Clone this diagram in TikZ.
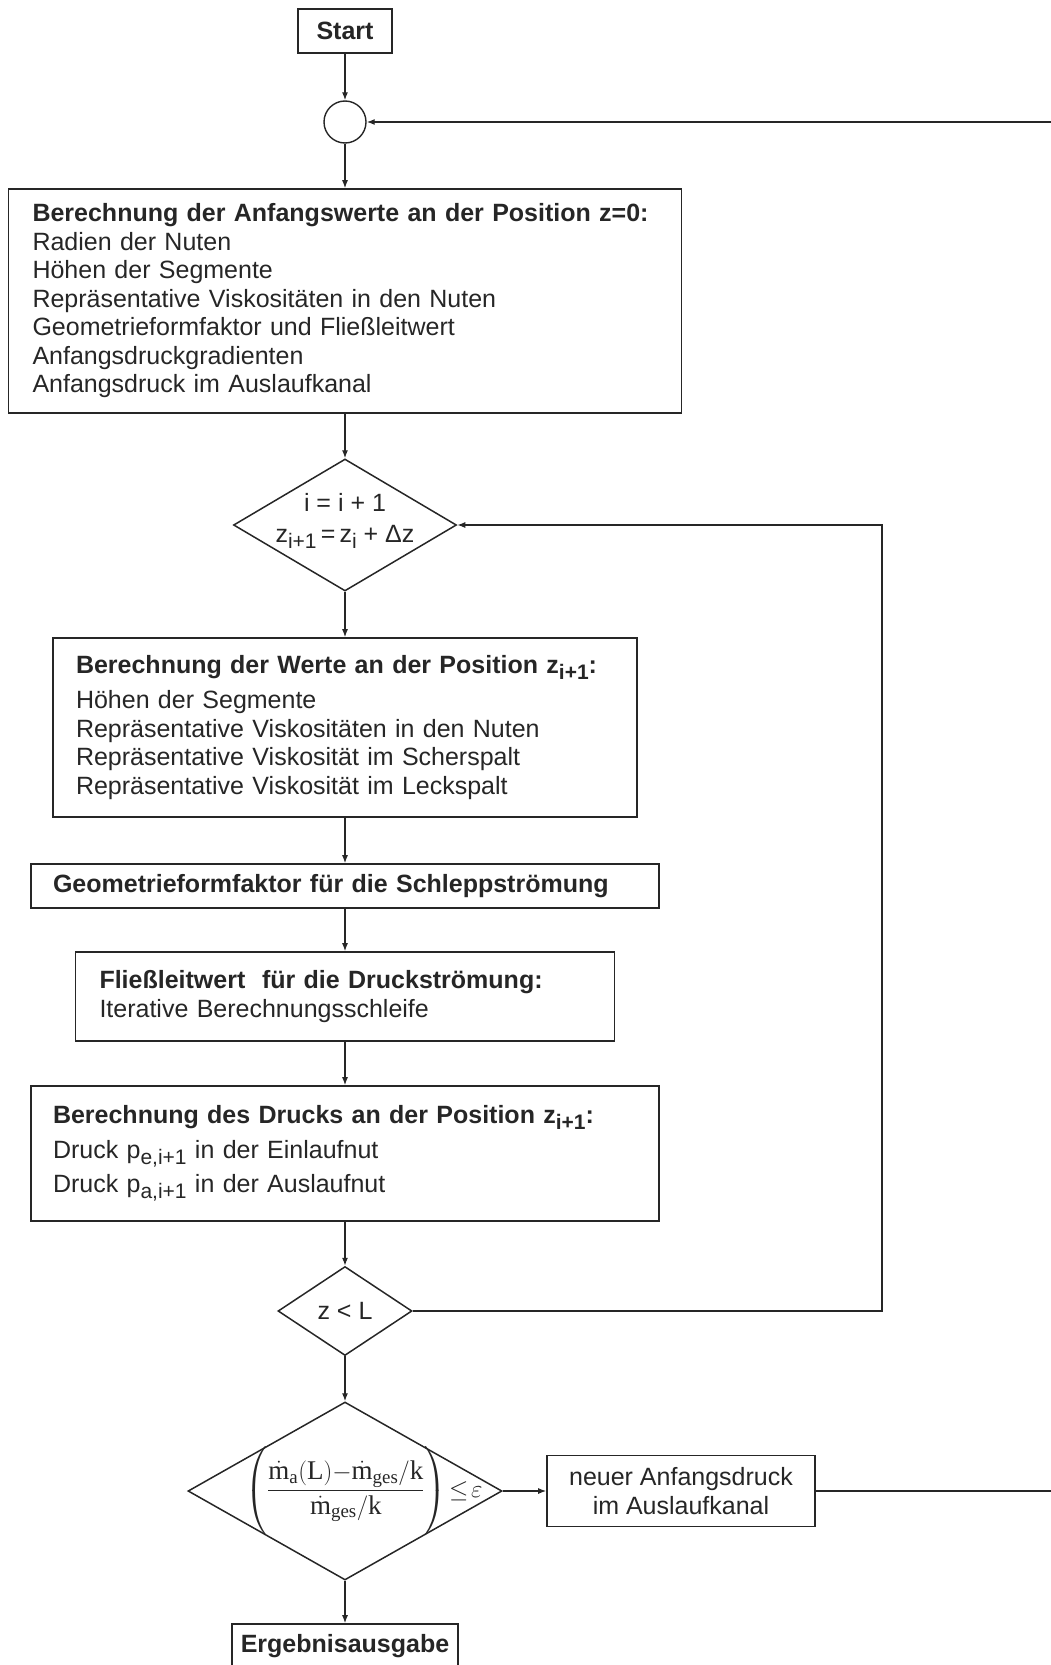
\documentclass[tikz,border=0pt]{standalone}
\usepackage{amsmath}
\usepackage{fontspec}
\usepackage{graphicx}
\setmainfont{Liberation Serif}
\setsansfont{Liberation Sans}
\usetikzlibrary{shapes.geometric,arrows.meta}
\newcommand{\lowsub}[1]{\raisebox{-0.45ex}{\fontsize{21}{21}\selectfont #1}}
\newcommand{\rmm}[1]{\text{\rmfamily\mdseries #1}}
\begin{document}
\begin{tikzpicture}[x=1pt,y=-1pt,
  every node/.style={font=\sffamily\fontsize{25}{28.5}\selectfont, text=black!85},
  box/.style={draw=black!85, line width=1.6pt, inner ysep=0pt, align=left},
  cbox/.style={draw=black!85, line width=1.6pt, inner sep=0pt, align=center},
  dia/.style={diamond, draw=black!85, line width=1.5pt, inner sep=0pt},
  arr/.style={draw=black!85, line width=1.3pt, -{Latex[length=8pt,width=6pt]}},
  plain/.style={draw=black!85, line width=1.3pt}
]
\useasboundingbox (0,0) rectangle (1051,1665);

\node[cbox, minimum width=94pt, minimum height=44pt] (start) at (345,31) {\textbf{Start}};
\node[circle, draw=black!85, line width=1.4pt, minimum size=42pt, inner sep=0pt] (circ) at (345,122) {};

\node[box, minimum width=673pt, minimum height=224pt, text width=625pt, inner xsep=24pt] (b1) at (345,301)
 {\textbf{Berechnung der Anfangswerte an der Position z=0:}\\
  Radien der Nuten\\
  Höhen der Segmente\\
  Repräsentative Viskositäten in den Nuten\\
  Geometrieformfaktor und Fließleitwert\\
  Anfangsdruckgradienten\\
  Anfangsdruck im Auslaufkanal};

\node[dia, minimum width=223pt, minimum height=132pt] (d1) at (345,525) {};
\node[align=center] (d1t) at (345,521) {i = i + 1\\[3pt]z\lowsub{i+1}\,=\,z\lowsub{i} + Δz};

\node[box, minimum width=584pt, minimum height=179pt, text width=538pt, inner xsep=23pt] (b2) at (345,727.5)
 {\textbf{Berechnung der Werte an der Position z\lowsub{i+1}:}\\[7pt]
  Höhen der Segmente\\
  Repräsentative Viskositäten in den Nuten\\
  Repräsentative Viskosität im Scherspalt\\
  Repräsentative Viskosität im Leckspalt};

\node[box, minimum width=628pt, minimum height=44pt, text width=584pt, inner xsep=22pt] (b3) at (345,886)
 {\textbf{Geometrieformfaktor für die Schleppströmung}};

\node[box, minimum width=539pt, minimum height=89pt, text width=491pt, inner xsep=24pt] (b4) at (345,996.5)
 {\textbf{Fließleitwert\ \ für die Druckströmung:}\\
  Iterative Berechnungsschleife};

\node[box, minimum width=628pt, minimum height=135pt, text width=584pt, inner xsep=22pt] (b5) at (345,1153.5)
 {\textbf{Berechnung des Drucks an der Position z\lowsub{i+1}:}\\[6pt]
  Druck p\lowsub{e,i+1} in der Einlaufnut\\[6pt]
  Druck p\lowsub{a,i+1} in der Auslaufnut};

\node[dia, minimum width=134pt, minimum height=89pt] (d2) at (345,1311) {};
\node (d2t) at (345,1311) {z < L};

\node[dia, minimum width=314pt, minimum height=178pt] (d3) at (345,1491) {};
\node[inner sep=0pt] (d3t) at (364,1491) {\fontsize{27}{30}\selectfont
  $\left(\vrule height 41pt depth 39pt width 0pt
  \dfrac{\dot{\rmm{m}}_{\rmm{a}}(\rmm{L}){-}\dot{\rmm{m}}_{\rmm{ges}}/\rmm{k}}{\dot{\rmm{m}}_{\rmm{ges}}/\rmm{k}}\right)\!\le\!\varepsilon$};

\node[cbox, minimum width=268pt, minimum height=71pt] (neu) at (681,1491)
 {neuer Anfangsdruck\\im Auslaufkanal};

\node[cbox, minimum width=226pt, minimum height=44pt] (erg) at (345,1646) {\textbf{Ergebnisausgabe}};

\coordinate (topR) at (1051,122);
\coordinate (rl) at (882,1311);
\coordinate (botR) at (1051,1491);

\draw[arr] (start) -- (circ);
\draw[arr] (circ) -- (b1);
\draw[arr] (b1) -- (d1);
\draw[arr] (d1) -- (b2);
\draw[arr] (b2) -- (b3);
\draw[arr] (b3) -- (b4);
\draw[arr] (b4) -- (b5);
\draw[arr] (b5) -- (d2);
\draw[arr] (d2) -- (d3);
\draw[arr] (d3) -- (erg);
\draw[arr] (d3) -- (neu);
\draw[arr] (d2.east) -- (rl) |- (d1.east);
\draw[arr] (topR) -- (circ);
\draw[plain] (neu) -- (botR);
\end{tikzpicture}
\end{document}
